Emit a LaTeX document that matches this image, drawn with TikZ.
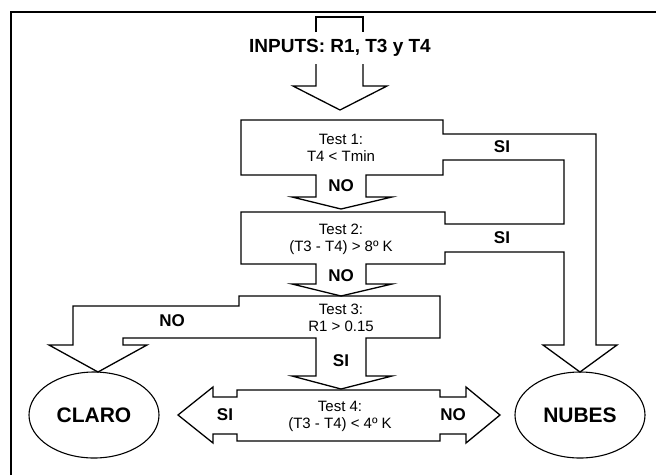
\documentclass[tikz,border=0pt]{standalone}
\usepackage{fontspec}
\setmainfont{Liberation Sans}
\usetikzlibrary{shapes.geometric}
\begin{document}
\begin{tikzpicture}[x=1pt,y=-1pt,
  blk/.style={draw=black,line width=1.3pt,line join=miter},
  test/.style={align=center,font=\fontsize{15}{17}\selectfont},
  lbl/.style={font=\bfseries\fontsize{17}{17}\selectfont},
  res/.style={ellipse,draw,line width=1.1pt,minimum width=130pt,minimum height=86pt,font=\bfseries\fontsize{21}{21}\selectfont}
]
\useasboundingbox (0,0) rectangle (656,475);
\draw[blk] (11,475) -- (11,12) -- (656,12);
\node[font=\bfseries\fontsize{19}{19}\selectfont] (inputs) at (340,48) {INPUTS: R1, T3 y T4};
\draw[blk] (316,32) -- (316,17) -- (363,17) -- (363,32);
\draw[blk] (316,64) -- (316,86) -- (293,86) -- (340,110) -- (387,86) -- (363,86) -- (363,64);
\draw[blk] (316,175) -- (241,175) -- (241,120) -- (443,120) -- (443,134) -- (596,134)
  -- (596,345) -- (617,345) -- (580,372) -- (543,345) -- (564,345) -- (564,252)
  -- (445,252) -- (445,264) -- (366,264) -- (366,284) -- (392,284) -- (341,296)
  -- (292,284) -- (316,284) -- (316,264) -- (241,264) -- (241,212) -- (445,212)
  -- (445,224) -- (564,224) -- (564,160) -- (443,160) -- (443,175) -- (366,175)
  -- (366,197) -- (392,197) -- (341,209) -- (292,197) -- (316,197) -- cycle;
\draw[blk] (239,296) -- (440,296) -- (440,338) -- (366,338) -- (366,376) -- (392,376)
  -- (341,389) -- (292,376) -- (316,376) -- (316,338) -- (123,338) -- (123,345)
  -- (147,345) -- (98,372) -- (49,345) -- (73,345) -- (73,306) -- (239,306) -- cycle;
\draw[blk] (237,390) -- (440,390) -- (440,397) -- (466,397) -- (466,387) -- (500,415)
  -- (466,443) -- (466,434) -- (440,434) -- (440,441) -- (237,441) -- (237,434)
  -- (213,434) -- (213,443) -- (178,415) -- (213,387) -- (213,397) -- (237,397) -- cycle;
\node[test] (t1) at (341,148) {Test 1:\\T4 < Tmin};
\node[test] (t2) at (341,239) {Test 2:\\(T3 - T4) > 8º K};
\node[test] (t3) at (341,318) {Test 3:\\R1 > 0.15};
\node[test] (t4) at (340,416) {Test 4:\\(T3 - T4) < 4º K};
\node[lbl] (no1) at (341,186) {NO};
\node[lbl] (no2) at (341,276) {NO};
\node[lbl] (no3) at (172,321) {NO};
\node[lbl] (no4) at (453,415) {NO};
\node[lbl] (si1) at (502,147) {SI};
\node[lbl] (si2) at (502,238) {SI};
\node[lbl] (si3) at (341,361) {SI};
\node[lbl] (si4) at (225,415) {SI};
\node[res] (claro) at (94,415) {CLARO};
\node[res] (nubes) at (580,415) {NUBES};
\end{tikzpicture}
\end{document}
